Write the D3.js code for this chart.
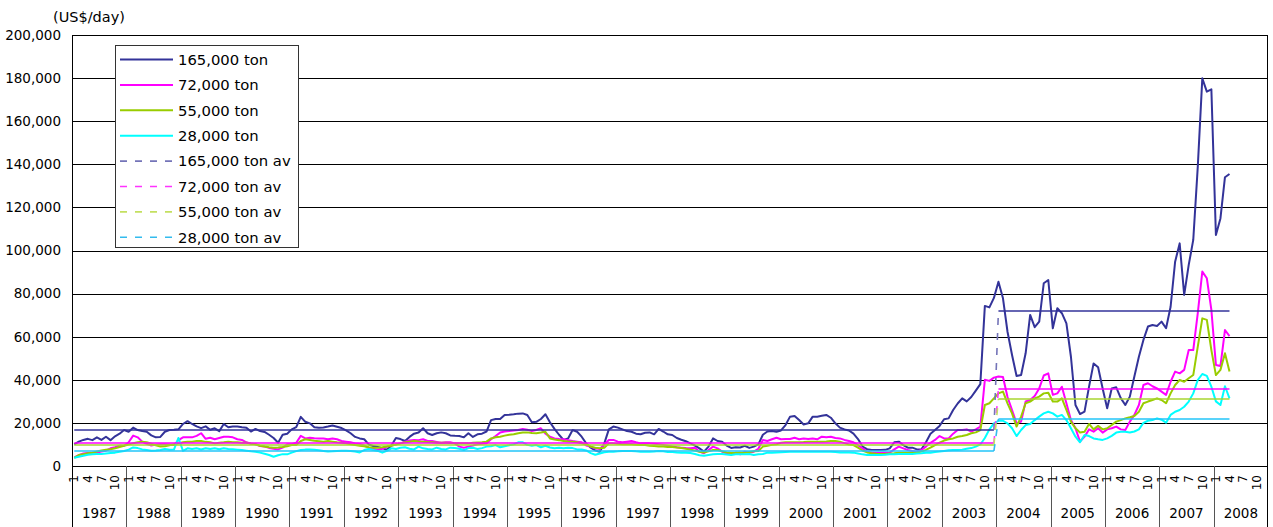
<!DOCTYPE html>
<html><head><meta charset="utf-8">
<script src="https://cdn.jsdelivr.net/npm/d3@7"></script>
<style>
body{margin:0;background:#fff}
svg{display:block}
text{font-family:"DejaVu Sans",sans-serif;fill:#000}
</style>
</head><body>
<svg id="c" width="1273" height="527"></svg>
<script>
// ---- categories / tick labels ----
const years = ["1987","1988","1989","1990","1991","1992","1993","1994","1995","1996","1997","1998","1999","2000","2001","2002","2003","2004","2005","2006","2007","2008"];
const monthTickLabels = ["1","4","7","10"];
const monthTickMonths = [1,4,7,10];
const yTickValues = [0,20000,40000,60000,80000,100000,120000,140000,160000,180000,200000];
const unitLabel = "(US$/day)";

// ---- monthly series (Jan 1987 .. Apr 2008) ----
const t165 = [
10000,11300,12100,12600,12000,13300,12100,13600,12000,13800,15000,16700,
15900,17800,16700,16200,15900,14200,13300,13500,15900,16700,16800,17000,
19500,20800,19500,18400,17600,18400,16800,17500,16200,19500,18000,18300,
18300,18000,17800,16000,17200,16200,15800,14500,13000,10800,14500,15000,
17000,18000,22800,20500,19800,18000,17800,17900,18300,18800,18200,17600,
16500,15200,13500,12800,12400,10000,9300,8800,8300,7500,9500,13000,
12500,11600,13500,15000,15500,17500,15200,14400,15200,15600,15200,14200,
14000,13900,13300,15200,13500,14700,15000,16000,21300,21800,21800,23700,
23800,24000,24300,24400,23700,20300,20500,21800,24000,20300,17200,14500,
12100,12800,16700,15900,13600,10500,8500,7200,6600,10500,17000,18300,
17800,17000,16200,15900,15000,14700,15400,15600,14700,17200,16000,14700,
14400,13000,12200,11500,10500,9500,8200,6700,9000,12800,11600,11300,
9500,8400,8700,8600,9400,8400,9000,10000,14500,16000,16200,15900,
16500,19000,22900,23200,21300,19300,19800,22900,22900,23300,23700,22400,
19800,17800,17000,16500,15000,12500,9000,7800,7400,7400,7400,7500,
8200,11000,11300,9700,8500,8500,7700,7700,11000,15000,16700,18600,
21700,22100,26000,29000,31400,30000,32000,35000,38000,74300,73600,78000,
85500,77800,62300,51500,41800,42200,52300,70100,64400,67000,84800,86300,
63900,73200,70900,66200,50700,28300,24100,25200,36800,47600,45800,36000,
26800,36000,36500,31500,28300,32200,41500,50700,58500,64700,65400,65000,
67000,63900,73900,94800,103300,79400,93300,104900,138900,179900,173700,174800,
107200,114900,134000,135500];
const t72 = [
4000,5000,5800,6000,6200,6200,6700,7100,8200,8700,9400,9400,
11000,14100,13300,11300,10300,9500,10000,10100,10100,10000,9700,12000,
13300,13300,13300,14000,15200,12600,13100,12400,13000,13600,13600,13300,
12400,12100,11000,10300,10100,9300,9000,8400,8000,7700,8500,10100,
10100,10800,14000,12800,13100,12900,12800,12800,12400,12800,12400,11600,
11300,11000,10500,10200,9500,8500,8000,7500,8000,9000,9500,10000,
10500,11300,11800,12100,12000,12400,11600,11600,11200,10800,11000,11000,
10500,9000,8500,9000,9500,10100,10300,10500,12400,13900,15500,16000,
16200,16500,16700,17200,16800,16200,16700,17500,15000,13600,12800,12500,
12400,12000,11600,11300,11000,9500,9000,8200,7900,10000,12100,12100,
11300,11000,11300,11600,11000,10500,10500,10500,10300,10100,9800,9400,
9000,8700,8500,8300,8200,8500,6650,5900,7400,9000,8200,6650,
5800,5400,6200,5400,6650,6200,6650,8000,12100,11600,12400,13100,
12400,12500,12500,13100,12400,12800,12500,12800,12400,13600,13300,13600,
13000,12800,12100,11600,11000,9700,8200,6650,6300,6200,6200,6200,
6200,7700,9000,8200,7400,7000,6650,7400,9000,10800,12100,13900,
12800,12800,15000,16700,16700,17000,16000,17000,18300,40000,39500,41000,
41500,41300,32000,26000,19800,20600,29900,30600,32500,36000,42000,43000,
33000,33700,36800,29100,21300,17500,11300,13600,17000,15900,17500,15500,
17000,17500,18300,17000,16700,20600,23700,28300,37600,38400,37000,36000,
34500,33000,39100,43800,43000,44600,53800,53800,70900,90200,87100,72400,
46900,46400,63100,60300];
const t55 = [
3800,5100,5500,5900,6200,6700,7200,7500,7800,8200,8800,9400,
10000,10600,11000,11300,11000,10300,9600,9000,9200,9600,10100,10500,
11000,11300,11300,11600,11600,11200,11000,10500,10800,11000,11300,11000,
11000,10800,10800,10400,10100,9400,9000,8700,8500,8600,8800,9200,
9700,9800,11600,12400,12100,11700,11500,11300,11600,11300,11000,10800,
10500,10100,9700,9400,9200,8700,8500,8500,8700,9000,9400,10000,
10500,11000,11300,11600,11400,11300,11100,11000,10800,10800,10800,10700,
10500,10500,10500,10500,10800,10900,11000,11300,12800,13300,13600,14100,
14500,14700,15200,15500,15600,15300,15200,15500,15900,12800,12300,12000,
11600,11400,11300,11000,10500,10100,9000,8500,8200,8500,10500,10500,
10300,10100,10100,10100,9900,9700,9700,9400,9300,9000,9000,8800,
8800,8600,8300,8000,7600,7200,6600,6300,6800,7400,7400,6800,
6300,6000,6100,6300,6200,6500,6800,7000,9000,9400,9800,10100,
10800,11000,11000,11000,11000,11100,11300,11200,11300,11300,11400,11600,
11600,11300,10600,10000,9700,8500,7200,6300,5900,5700,5600,5600,
5800,5900,6200,6200,6200,6200,6300,6700,7500,8500,9700,10800,
11800,12400,12800,13600,13900,14400,15200,15600,16700,28300,29100,31400,
33700,34500,29100,24400,18300,22900,29100,29900,31400,32200,33700,34000,
29900,29900,31400,26000,20600,17500,15500,15900,19500,17000,18600,17000,
17500,19000,20600,21300,22100,22600,23200,25200,29100,29900,30600,31400,
30600,29100,33700,37600,39900,39100,40700,42200,55400,68500,67800,53800,
42200,44600,52300,43800];
const t28 = [
3800,4300,4800,5200,5500,5600,5600,5800,6000,6200,6600,7000,
7600,8600,8300,7700,7400,7100,7200,7400,7900,7500,7600,13000,
7000,8200,7900,8200,7700,8200,7900,8200,7800,8200,7900,7800,
7600,7400,7100,6800,6650,6200,5700,5100,4300,5000,5500,5400,
6200,6900,7400,7600,7700,7500,7300,7000,6700,6800,7000,7100,
7100,7000,6700,6300,7400,7900,7400,7000,6200,7000,8200,7900,
8500,8700,8000,7700,9000,8200,7900,7700,8500,7900,7700,8500,
8300,8000,7400,8300,8500,7900,8300,9000,9200,9700,8700,9200,
9600,10100,11000,11000,9800,9400,9700,8700,9400,8600,8200,8500,
8200,8500,8300,7700,7700,7200,6000,5200,5800,6400,6650,6650,
6800,7000,7000,7000,6800,6650,6650,6650,6700,7000,6800,6500,
6500,6300,6200,6200,6000,5600,5000,4800,5100,5400,5600,5600,
5300,5100,5400,5400,5500,5600,5100,5400,5600,6200,6200,6300,
6400,6500,6600,6650,6650,6650,6650,6650,6650,6650,6650,6600,
6500,6300,6300,6300,6200,5800,5400,5100,5100,5100,5100,5200,
5400,5500,5600,5600,5600,5600,5800,5900,6100,6200,6500,6700,
7000,7300,7400,7400,7600,8000,8300,9000,10000,13000,17000,19800,
21000,21000,19800,17500,13900,16700,19000,19500,21300,22900,24400,25200,
24400,22900,23700,21300,17500,13600,11000,14400,13900,12800,12400,12100,
12800,14000,15500,15900,15900,15500,16000,17000,20000,21000,21300,22100,
21500,20100,23700,25200,26000,27500,29900,33700,39900,42700,41800,36800,
30000,28300,37000,31400];

// ---- period averages (1987/1-2003/12, 2004/1-2008/4) ----
const avgPeriodStartIndex = [0, 204];
const avg165 = [16700, 71800];
const avg72  = [10800, 35700];
const avg55  = [9600, 31100];
const avg28  = [7000, 21800];

const seriesNames = ["165,000 ton","72,000 ton","55,000 ton","28,000 ton"];
const seriesColors = ["#333399","#ff00ff","#99cc00","#00ffff"];
const avgNames = ["165,000 ton av","72,000 ton av","55,000 ton av","28,000 ton av"];
const avgColors = ["#33339a","#ff00ff","#a8d430","#22c4f8"];
const avgLegendColors = ["#7474b8","#ff33ff","#c4e060","#33bbee"];

// ---- build ----
(function () {
const svg = d3.select("#c");
const W = 1273, H = 527;
const padL = 72, padR = 1268, padT = 35, padB = 466;
const nCats = years.length * 12;
const x = d3.scaleBand().domain(d3.range(nCats)).range([padL, padR]).paddingInner(0).paddingOuter(0);
const xc = i => x(i) + x.bandwidth() / 2;
const y = d3.scaleLinear().domain([0, 200000]).range([padB, padT]);
const yc = v => Math.round(y(v)) + 0.5;

// gridlines
svg.append("g").selectAll("line").data(yTickValues.slice(1)).join("line")
  .attr("x1", padL).attr("x2", padR)
  .attr("y1", d => yc(d)).attr("y2", d => yc(d))
  .attr("stroke", "#000").attr("stroke-width", 1);

// y axis labels
const yAxis = d3.axisLeft(y).tickValues(yTickValues).tickFormat(d3.format(",")).tickSize(0).tickPadding(11);
const yg = svg.append("g").attr("transform", `translate(${padL},0)`).call(yAxis);
yg.select(".domain").remove();
yg.selectAll("text").attr("font-size", "13.5px").attr("font-family", "DejaVu Sans").attr("fill", "#000");

// frame
svg.append("line").attr("x1", padL + 0.5).attr("x2", padL + 0.5).attr("y1", padT).attr("y2", H).attr("stroke", "#000");
svg.append("line").attr("x1", padR - 0.5).attr("x2", padR - 0.5).attr("y1", padT).attr("y2", H).attr("stroke", "#000");
svg.append("line").attr("x1", padL).attr("x2", padR).attr("y1", padB + 0.5).attr("y2", padB + 0.5).attr("stroke", "#000");

// year separators and labels
svg.append("g").selectAll("line").data(years.slice(1)).join("line")
  .attr("x1", (d, k) => Math.round(x((k + 1) * 12)) + 0.5)
  .attr("x2", (d, k) => Math.round(x((k + 1) * 12)) + 0.5)
  .attr("y1", padB).attr("y2", H).attr("stroke", "#555").attr("stroke-width", 1);
svg.append("g").selectAll("text").data(years).join("text")
  .attr("x", (d, k) => x(k * 12) + 6 * x.bandwidth())
  .attr("y", 518).attr("text-anchor", "middle").attr("font-size", "13.5px").text(d => d);

// month tick labels (rotated)
const monthTicks = [];
years.forEach((yr, k) => monthTickMonths.forEach((m, j) => monthTicks.push({i: k * 12 + m - 1, label: monthTickLabels[j]})));
const xAxis = d3.axisBottom(x).tickValues(monthTicks.map(d => d.i))
  .tickFormat(i => monthTicks.find(d => d.i === i).label).tickSize(0).tickPadding(0);
const xg = svg.append("g").attr("transform", `translate(0,${padB})`).call(xAxis);
xg.select(".domain").remove();
xg.selectAll("text").attr("font-size", "12px").attr("font-family", "DejaVu Sans").attr("fill", "#000")
  .attr("text-anchor", "end").attr("dy", "0.35em").attr("y", 0)
  .attr("transform", "translate(0,9) rotate(-90)");

// series lines
const line = d3.line().x((d, i) => xc(i)).y(d => y(d));
const seriesData = [t165, t72, t55, t28];
svg.append("g").selectAll("path").data(seriesData).join("path")
  .attr("d", d => line(d)).attr("fill", "none")
  .attr("stroke", (d, k) => seriesColors[k]).attr("stroke-width", 2).attr("stroke-linejoin", "round");

// average lines: flat runs drawn solid, the step between periods drawn dashed
const nData = t165.length;
const ya = v => Math.round(y(v));
const avgData = [avg165, avg72, avg55, avg28].map(vals => d3.range(nData).map(i => {
  let p = 0; avgPeriodStartIndex.forEach((s, k) => { if (i >= s) p = k; }); return vals[p];
}));
avgData.forEach((arr, k) => {
  const g = svg.append("g");
  let runStart = 0;
  for (let i = 0; i < nData - 1; i++) {
    if (arr[i + 1] !== arr[i]) {
      g.append("line").attr("x1", xc(runStart)).attr("x2", xc(i)).attr("y1", ya(arr[i])).attr("y2", ya(arr[i]))
        .attr("stroke", avgColors[k]).attr("stroke-width", 1.6);
      g.append("line").attr("x1", xc(i)).attr("x2", xc(i + 1)).attr("y1", ya(arr[i])).attr("y2", ya(arr[i + 1]))
        .attr("stroke", avgLegendColors[k]).attr("stroke-width", 1.6).attr("stroke-dasharray", "7,8");
      runStart = i + 1;
    }
  }
  g.append("line").attr("x1", xc(runStart)).attr("x2", xc(nData - 1))
    .attr("y1", ya(arr[nData - 1])).attr("y2", ya(arr[nData - 1]))
    .attr("stroke", avgColors[k]).attr("stroke-width", 1.6);
});

// unit label
svg.append("text").attr("x", 53).attr("y", 22).attr("font-size", "14.5px").text(unitLabel);

// legend
const lg = svg.append("g");
lg.append("rect").attr("x", 115.5).attr("y", 45.5).attr("width", 183).attr("height", 202)
  .attr("fill", "#fff").attr("stroke", "#333").attr("stroke-width", 1);
const legItems = seriesNames.map((n, k) => ({n, c: seriesColors[k], dash: null, w: 2}))
  .concat(avgNames.map((n, k) => ({n, c: avgLegendColors[k], dash: "7,8", w: 1.6})));
legItems.forEach((it, k) => {
  const cy = 59.5 + k * 25.4;
  lg.append("line").attr("x1", 120).attr("x2", 173).attr("y1", cy).attr("y2", cy)
    .attr("stroke", it.c).attr("stroke-width", it.w).attr("stroke-dasharray", it.dash);
  lg.append("text").attr("x", 178).attr("y", cy).attr("dy", "0.36em").attr("font-size", "14.8px").text(it.n);
});
})();
</script>
</body></html>
